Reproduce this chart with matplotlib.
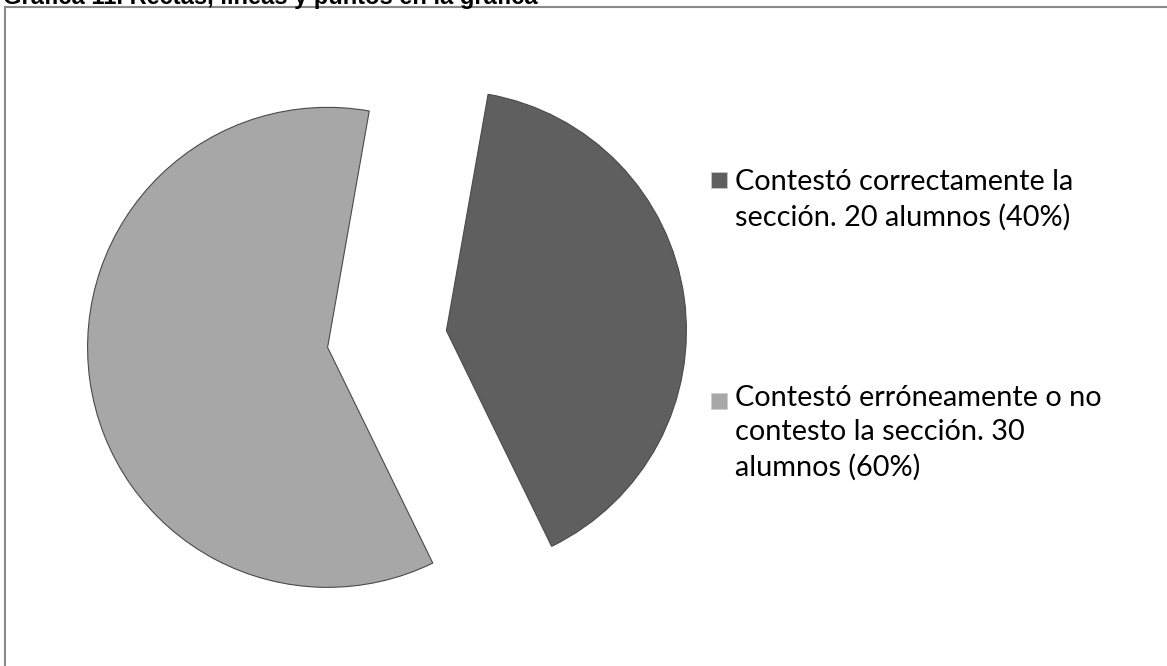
import matplotlib
matplotlib.use("Agg")
import matplotlib.pyplot as plt
from matplotlib.patches import Rectangle

categories = ["Contestó correctamente la\nsección. 20 alumnos (40%)",
              "Contestó erróneamente o no\ncontesto la sección. 30\nalumnos (60%)"]
values = [20, 30]
colors = ["#5f5f5f", "#a7a7a7"]
title = "Gráfica 11. Rectas, líneas y puntos en la gráfica"

W, H = 1167, 666
fig = plt.figure(figsize=(W / 100, H / 100), dpi=100)
fig.patch.set_facecolor("white")

# clipped outer frame
frame = Rectangle((5 / W, -0.1), 1.2, 1 - 7 / H + 0.1, transform=fig.transFigure,
                  fill=False, edgecolor="#8a8a8a", linewidth=1.5)
fig.add_artist(frame)

# title partly cut off at the top (as in the reference)
fig.text(3 / W, 1 - 4 / H, title, ha="left", va="baseline", fontsize=17,
         fontweight="bold", family=["Liberation Sans", "DejaVu Sans"])

# pie axes: centre (387, 339) px, radius ~240 px
r = 240
cx, cy = 387, 339
ax = fig.add_axes([(cx - 330) / W, (H - cy - 330) / H, 660 / W, 660 / H])
wedges, _ = ax.pie(values, colors=colors, startangle=80, counterclock=False,
                   explode=[0.25, 0.25], radius=1.0,
                   wedgeprops=dict(edgecolor="#4a4a4a", linewidth=0.8))
ax.set_xlim(-330 / r, 330 / r)
ax.set_ylim(-330 / r, 330 / r)
ax.set_aspect("equal")
ax.axis("off")

# legend drawn manually
font = ["Lato", "DejaVu Sans"]
marker_y = [180, 401]
top_y = [169, 385]
for my, ty, lab, col in zip(marker_y, top_y, categories, colors):
    fig.add_artist(Rectangle((711 / W, 1 - (my + 8) / H), 16 / W, 16 / H,
                             transform=fig.transFigure, facecolor=col,
                             edgecolor="#cccccc", linewidth=0.5))
    fig.text(735 / W, 1 - ty / H, lab, ha="left", va="top",
             fontsize=20.8, family=font, linespacing=1.39, color="black")

fig.savefig("out.png", dpi=100, facecolor="white")
